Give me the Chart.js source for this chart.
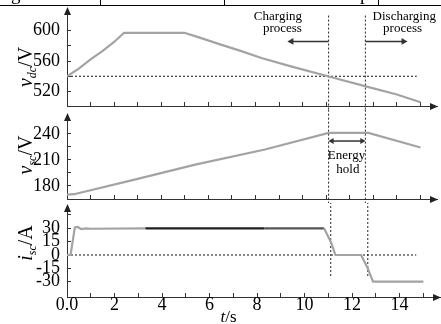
<!DOCTYPE html>
<html>
<head>
<meta charset="utf-8">
<script src="https://cdn.jsdelivr.net/npm/chart.js@4.4.1/dist/chart.umd.min.js"></script>
<style>
  html, body { margin: 0; padding: 0; background: #fff; }
  #wrap { position: relative; width: 441px; height: 324px; overflow: hidden; font-family: "Liberation Serif", serif; }
  canvas { position: absolute; left: 0; }
  #c1 { top: 0; }
  #c2 { top: 110px; }
  #c3 { top: 203px; }
  /* cut-off table row above the figure */
  .tbl { position: absolute; top: 0; left: 0; width: 441px; height: 5px; border-bottom: 1px solid #000; overflow: hidden; z-index: 2; }
  .tbl b { position: absolute; top: 0; height: 6px; border-left: 1px solid #000; }
  .tbl span { position: absolute; top: -16px; font-size: 19px; line-height: 19px; font-weight: normal; }
</style>
</head>
<body>
<div id="wrap">
  <div class="tbl">
    <span style="left:11px">g</span>
    <b style="left:100px"></b>
    <b style="left:224px"></b>
    <span style="left:360px">p</span>
    <b style="left:378px"></b>
  </div>
  <canvas id="c1" width="441" height="110"></canvas>
  <canvas id="c2" width="441" height="93"></canvas>
  <canvas id="c3" width="441" height="121"></canvas>
</div>
<script>
/* =========================================================
   DATA
========================================================= */

// time axis (s)
const xTicks = [0, 1, 2, 3, 4, 5, 6, 7, 8, 9, 10, 11, 12, 13, 14, 15];
const xLabels = [0, 2, 4, 6, 8, 10, 12, 14];

// DC bus voltage
const dcTime = [0, 0.5, 1, 1.5, 2, 2.42, 4.98, 5.5, 6.43, 7.3, 8.25, 9.5, 11.07, 12.76, 14, 15];
const dcVolt = [540, 550, 562, 573, 585, 597, 597, 592, 582.5, 574, 564, 553, 540, 526, 516, 506];
const dcTicks = [520, 540, 560, 580, 600];
const dcLabels = [520, 560, 600];

// supercapacitor voltage
const scTime = [0, 0.3, 2.78, 5.44, 8.4, 11.1, 12.79, 15];
const scVolt = [170, 170.5, 186.7, 204.5, 222, 241, 241, 224.3];
const scTicks = [180, 195, 210, 225, 240];
const scLabels = [180, 210, 240];

// supercapacitor current
const iTime = [0, 0.15, 0.33, 0.45, 0.6, 0.8, 1.0, 3.3, 8.3, 10.82, 11.1, 11.3, 12.38, 12.66, 12.88, 15];
const iAmp = [0, 0, 31, 31.5, 29, 30, 29.5, 30, 30, 30, 15, 0, 0, -15, -30, -30];
const iTicks = [-30, -15, 0, 15, 30, 45];
const iLabels = [-30, -15, 0, 15, 30];

// event instants (s)
const tCharge = 11.1;
const tDischarge = 12.66;

/* =========================================================
   HELPERS
========================================================= */

Chart.defaults.font.family = '"Liberation Serif", serif';

const zip = (xs, ys) => xs.map((x, i) => ({ x: x, y: ys[i] }));

const fontOf = p => (p.italic ? 'italic ' : '') + p.size + 'px "Liberation Serif"';

function richText(ctx, parts, x, y){
  let w = 0;
  parts.forEach(p => { ctx.font = fontOf(p); p.w = ctx.measureText(p.t).width; w += p.w; });
  let cx = x - w / 2;
  parts.forEach(p => {
    ctx.font = fontOf(p);
    ctx.fillText(p.t, cx, y + (p.dy || 0));
    cx += p.w;
  });
}

const plain = (t, size) => [{ t: t, size: size || 13 }];

// no automatic room for overhanging tick labels
function noPad(s){
  s.paddingTop = 0;
  s.paddingBottom = 0;
  s.paddingLeft = 0;
  s.paddingRight = 0;
}

// axis arrows, rotated titles and notes
const decor = {
  id: 'decor',
  afterDraw(chart, args, opts){
    const { ctx, chartArea: a, scales: { x, y } } = chart;
    const ax = Math.round(a.left) + 0.5;
    const ay = Math.round(a.bottom) + 0.5;
    ctx.save();
    ctx.fillStyle = '#222';
    ctx.beginPath();
    ctx.moveTo(ax, a.top - 1);
    ctx.lineTo(ax - 3.5, a.top + 7);
    ctx.lineTo(ax + 3.5, a.top + 7);
    ctx.fill();
    ctx.beginPath();
    ctx.moveTo(a.right + 1, ay);
    ctx.lineTo(a.right - 7, ay - 3.5);
    ctx.lineTo(a.right - 7, ay + 3.5);
    ctx.fill();

    ctx.fillStyle = '#000';
    ctx.textAlign = 'left';
    ctx.textBaseline = 'alphabetic';
    (opts.notes || []).forEach(n => {
      richText(ctx, n.parts, x.getPixelForValue(n.x), y.getPixelForValue(n.y));
    });
    if(opts.xTitle){
      richText(ctx, opts.xTitle.parts, x.getPixelForValue(opts.xTitle.x), a.bottom + opts.xTitle.dy);
    }
    if(opts.title){
      ctx.translate(opts.title.cx, opts.title.cy);
      ctx.rotate(-Math.PI / 2);
      richText(ctx, opts.title.parts, 0, 7);
    }
    ctx.restore();
  }
};

function dashV(t, y0, y1){
  return {
    data: [{ x: t, y: y0 }, { x: t, y: y1 }],
    borderColor: '#222', borderWidth: 1, borderDash: [2, 2],
    clip: false, pointRadius: 0
  };
}

function dotH(t0, t1, v){
  return {
    data: [{ x: t0, y: v }, { x: t1, y: v }],
    borderColor: '#111', borderWidth: 1, borderDash: [2, 2],
    pointRadius: 0
  };
}

function arrow(t0, t1, v, radii, rots){
  return {
    data: [{ x: t0, y: v }, { x: t1, y: v }],
    borderColor: '#333', borderWidth: 1.5,
    pointStyle: 'triangle', pointRadius: radii, pointRotation: rots,
    pointBackgroundColor: '#333', pointBorderColor: '#333', pointBorderWidth: 0
  };
}

function panel(id, o){
  return new Chart(document.getElementById(id), {
    type: 'line',
    data: { datasets: o.datasets },
    options: {
      responsive: false,
      animation: false,
      events: [],
      layout: { padding: { top: o.top, right: 1, left: 0, bottom: 0 } },
      elements: { point: { radius: 0 }, line: { tension: 0 } },
      plugins: {
        legend: { display: false },
        tooltip: { enabled: false },
        decor: o.decor
      },
      scales: {
        x: {
          type: 'linear', min: 0, max: 15.7,
          afterBuildTicks: s => { s.ticks = xTicks.map(v => ({ value: v })); },
          afterFit: s => { s.height = o.xh; noPad(s); },
          grid: { drawOnChartArea: false, tickLength: -4, color: '#333' },
          border: { color: '#333', width: 1 },
          ticks: {
            display: o.xShow, autoSkip: false, maxRotation: 0, padding: 1,
            color: '#000', font: { size: 18 },
            callback: v => xLabels.includes(v) ? (v === 0 ? '0.0' : String(v)) : ''
          }
        },
        y: {
          type: 'linear', min: o.min, max: o.max,
          afterBuildTicks: s => { s.ticks = o.ticks.map(v => ({ value: v })); },
          afterFit: s => { s.width = 67; noPad(s); },
          grid: { drawOnChartArea: false, tickLength: -4, color: '#333' },
          border: { color: '#333', width: 1 },
          ticks: {
            autoSkip: false, padding: 11, color: '#000', font: { size: 18 },
            callback: v => o.labels.includes(v) ? String(v) : ''
          }
        }
      }
    },
    plugins: [decor]
  });
}

const lineGray = '#a3a3a3';

/* =========================================================
   PANEL 1 - v_dc
========================================================= */

panel('c1', {
  top: 8, xh: 2, min: 501, max: 629.5, ticks: dcTicks, labels: dcLabels, xShow: false,
  datasets: [
    { data: zip(dcTime, dcVolt), borderColor: lineGray, borderWidth: 2.2 },
    arrow(tCharge, 9.52, 585.7, [0, 4], [0, -90]),
    arrow(tDischarge, 14.28, 585.7, [0, 4], [0, 90]),
    dotH(0, 14.84, 540),
    dashV(tCharge, 619.6, 490),
    dashV(tDischarge, 619.6, 490)
  ],
  decor: {
    title: { cx: 25, cy: 67, parts: [
      { t: 'v', italic: true, size: 20 },
      { t: 'dc', italic: true, size: 12, dy: 4 },
      { t: '/V', size: 20 }
    ] },
    notes: [
      { x: 8.95, y: 613.5, parts: plain('Charging') },
      { x: 9.14, y: 598, parts: plain('process') },
      { x: 14.31, y: 613.5, parts: plain('Discharging') },
      { x: 14.24, y: 598, parts: plain('process') }
    ]
  }
});

/* =========================================================
   PANEL 2 - v_sc
========================================================= */

panel('c2', {
  top: 4, xh: 2, min: 165, max: 262.8, ticks: scTicks, labels: scLabels, xShow: false,
  datasets: [
    { data: zip(scTime, scVolt), borderColor: lineGray, borderWidth: 2.2 },
    arrow(11.24, 12.52, 231.7, [3.5, 3.5], [-90, 90]),
    dashV(tCharge, 300, 100),
    dashV(tDischarge, 300, 100)
  ],
  decor: {
    title: { cx: 25, cy: 45, parts: [
      { t: 'v', italic: true, size: 20 },
      { t: 'sc', italic: true, size: 12, dy: 4 },
      { t: '/V', size: 20 }
    ] },
    notes: [
      { x: 11.86, y: 211.1, parts: plain('Energy') },
      { x: 11.92, y: 194.6, parts: plain('hold') }
    ]
  }
});

/* =========================================================
   PANEL 3 - i_sc
========================================================= */

panel('c3', {
  top: 2, xh: 27, min: -47.2, max: 56.2, ticks: iTicks, labels: iLabels, xShow: true,
  datasets: [
    {
      data: zip(iTime, iAmp), borderColor: lineGray, borderWidth: 2.2,
      segment: {
        borderColor: c => {
          if(c.p0.parsed.x >= 3.3 && c.p1.parsed.x <= 8.3) return '#1e1e1e';
          if(c.p0.parsed.x >= 8.3 && c.p1.parsed.x <= 10.82) return '#555';
          return undefined;
        }
      }
    },
    dotH(0, 14.7, 0),
    dashV(tCharge, 100, -24.4),
    dashV(tDischarge, 100, -24.4)
  ],
  decor: {
    title: { cx: 25, cy: 40, parts: [
      { t: 'i', italic: true, size: 20 },
      { t: 'sc', italic: true, size: 12, dy: 4 },
      { t: '/A', size: 20 }
    ] },
    xTitle: { x: 6.8, dy: 25, parts: [
      { t: 't', italic: true, size: 17 },
      { t: '/s', size: 17 }
    ] }
  }
});
</script>
</body>
</html>
